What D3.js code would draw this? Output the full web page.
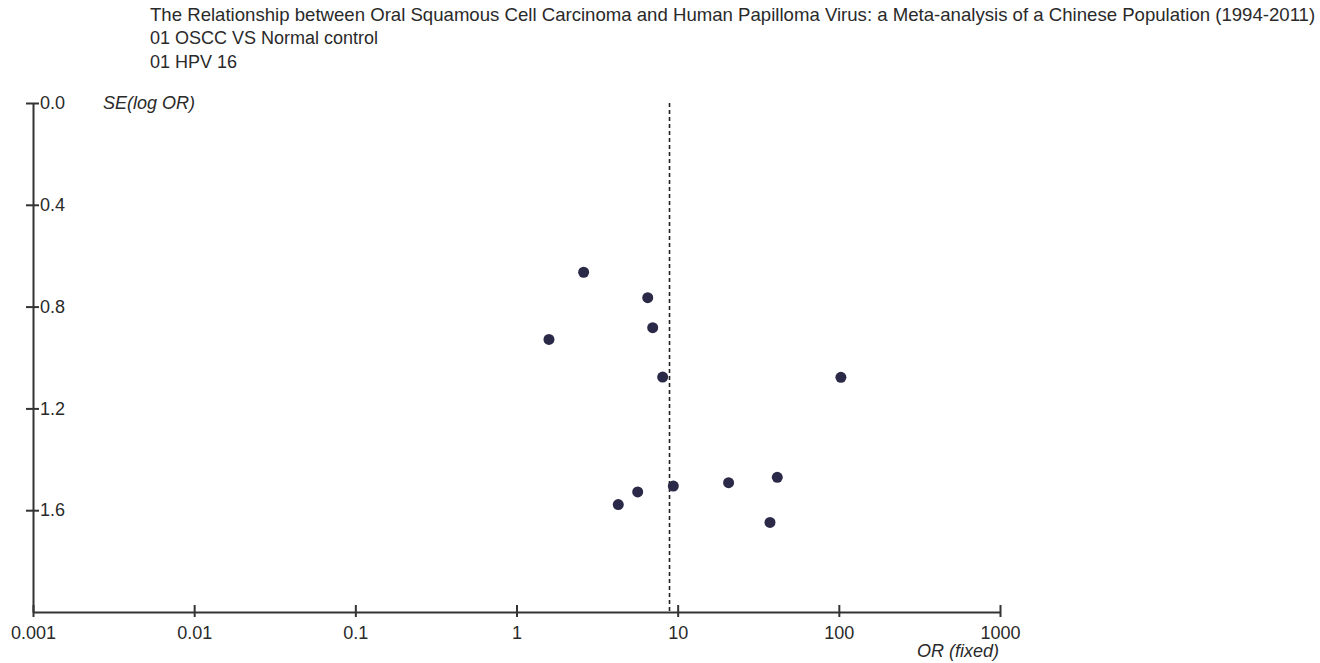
<!DOCTYPE html>
<html>
<head>
<meta charset="utf-8">
<script src="https://d3js.org/d3.v7.min.js"></script>
<style>
  body { margin: 0; background: #fff; }
  text { font-family: "Liberation Sans", Arial, sans-serif; fill: #2a2a2a; }
</style>
</head>
<body>
<div id="chart"></div>
<script>
// funnel plot data
var studyOR = [2.61, 6.52, 7.0, 1.59, 8.07, 103, 4.28, 5.65, 9.4, 20.7, 41.5, 37.4];
var studySE = [0.665, 0.765, 0.883, 0.929, 1.077, 1.078, 1.578, 1.528, 1.505, 1.492, 1.471, 1.648];
var pooledOR = 8.9;

var xTicks = [0.001, 0.01, 0.1, 1, 10, 100, 1000];
var xTickLabels = ["0.001", "0.01", "0.1", "1", "10", "100", "1000"];
var yTicks = [0.0, 0.4, 0.8, 1.2, 1.6];
var yTickLabels = ["0.0", "0.4", "0.8", "1.2", "1.6"];

var titleLines = [
  "The Relationship between Oral Squamous Cell Carcinoma and Human Papilloma Virus: a Meta-analysis of a Chinese Population (1994-2011)",
  "01 OSCC VS Normal control",
  "01 HPV 16"
];

function init() {
  var w = 1320, h = 663;

  var svg = d3.select("#chart")
    .append("svg")
    .attr("width", w)
    .attr("height", h);

  // log scale for OR, linear for SE (top = 0)
  var xScale = d3.scaleLog().domain([0.001, 1000]).range([33, 1000]);
  var yScale = d3.scaleLinear().domain([0, 2]).range([103, 612]);

  // titles
  svg.selectAll("text.title")
    .data(titleLines)
    .enter()
    .append("text")
    .attr("class", "title")
    .attr("x", 150)
    .attr("y", function(d, i) { return 20.5 + i * 23.5; })
    .style("font-size", function(d, i) { return i == 0 ? "18.6px" : "18px"; })
    .text(function(d) { return d; });

  // x axis
  var xAxis = d3.axisBottom(xScale)
    .tickValues(xTicks)
    .tickFormat(function(d, i) { return xTickLabels[i]; })
    .tickSizeOuter(0);

  var gx = svg.append("g")
    .attr("transform", "translate(0," + yScale(2) + ")")
    .call(xAxis);
  gx.select(".domain").attr("stroke", "#333").attr("stroke-width", 2);
  gx.selectAll(".tick line")
    .attr("y1", -7).attr("y2", 5)
    .attr("stroke", "#333").attr("stroke-width", 2);
  gx.selectAll(".tick text")
    .attr("y", 14)
    .style("font-size", "18px")
    .style("font-family", "Liberation Sans, Arial, sans-serif")
    .attr("fill", "#2a2a2a");

  // y axis
  var yAxis = d3.axisLeft(yScale)
    .tickValues(yTicks)
    .tickFormat(function(d, i) { return yTickLabels[i]; })
    .tickSizeOuter(0);

  var gy = svg.append("g")
    .attr("transform", "translate(" + xScale(0.001) + ",0)")
    .call(yAxis);
  gy.select(".domain").attr("stroke", "#333").attr("stroke-width", 2);
  gy.selectAll(".tick line")
    .attr("x1", -7).attr("x2", 6)
    .attr("stroke", "#333").attr("stroke-width", 2);
  gy.selectAll(".tick text")
    .attr("x", 7)
    .attr("text-anchor", "start")
    .style("font-size", "18px")
    .style("font-family", "Liberation Sans, Arial, sans-serif")
    .attr("fill", "#2a2a2a");

  // axis captions
  svg.append("text")
    .attr("x", 103)
    .attr("y", yScale(0) + 6)
    .style("font-size", "18px")
    .style("font-style", "italic")
    .text("SE(log OR)");

  svg.append("text")
    .attr("x", 999)
    .attr("y", 657)
    .attr("text-anchor", "end")
    .style("font-size", "18px")
    .style("font-style", "italic")
    .text("OR (fixed)");

  // pooled estimate line
  svg.append("line")
    .attr("x1", xScale(pooledOR)).attr("x2", xScale(pooledOR))
    .attr("y1", yScale(0)).attr("y2", yScale(2))
    .attr("stroke", "#222")
    .attr("stroke-width", 1.6)
    .attr("stroke-dasharray", "4,3");

  // study points
  var pts = studyOR.map(function(d, i) { return { or: d, se: studySE[i] }; });
  svg.selectAll("circle.study")
    .data(pts)
    .enter()
    .append("circle")
    .attr("class", "study")
    .attr("cx", function(d) { return xScale(d.or); })
    .attr("cy", function(d) { return yScale(d.se); })
    .attr("r", 5.5)
    .attr("fill", "#2b2948");
}

window.onload = init;
</script>
</body>
</html>
